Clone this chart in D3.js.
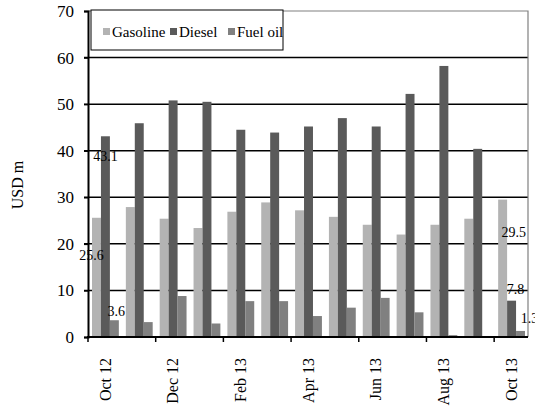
<!DOCTYPE html>
<html>
<head>
<meta charset="utf-8">
<script src="https://cdn.jsdelivr.net/npm/d3@7"></script>
<style>
  body { margin: 0; background: #fff; }
  text { font-family: "Liberation Serif", "DejaVu Serif", serif; fill: #000; }
</style>
</head>
<body>
<svg id="chart" width="535" height="408"></svg>
<script>
// monthly values, USD m
var months = ["Oct 12", "Nov 12", "Dec 12", "Jan 13", "Feb 13", "Mar 13", "Apr 13",
              "May 13", "Jun 13", "Jul 13", "Aug 13", "Sep 13", "Oct 13"];
var seriesNames = ["Gasoline", "Diesel", "Fuel oil"];
var gasoline = [25.6, 27.9, 25.4, 23.4, 26.9, 28.9, 27.2, 25.8, 24.1, 22.0, 24.1, 25.4, 29.5];
var diesel   = [43.1, 45.9, 50.8, 50.5, 44.5, 43.9, 45.2, 47.0, 45.2, 52.2, 58.2, 40.4, 7.8];
var fuelOil  = [3.6, 3.2, 8.8, 2.9, 7.7, 7.7, 4.5, 6.3, 8.4, 5.3, 0.4, 0, 1.3];
var yTicks = [0, 10, 20, 30, 40, 50, 60, 70];
var tickLabels = ["Oct 12", "Dec 12", "Feb 13", "Apr 13", "Jun 13", "Aug 13", "Oct 13"];
// data labels shown in the chart: [series index, month index]
var dataLabels = [[1, 0], [0, 0], [2, 0], [0, 12], [1, 12], [2, 12]];

var colors = ["#b3b3b3", "#5a5a5a", "#808080"];
// label offsets (dx, dy) from bar center / bar top, same order as dataLabels
var labelOffsets = [[0, 20], [-5, 37], [2, -9], [11, 32], [4, -12], [9, -13]];

var values = [gasoline, diesel, fuelOil];

var svg = d3.select("#chart");
var plotL = 88, plotR = 528, plotT = 11, plotB = 337;

var x = d3.scaleBand().domain(months).range([plotL, plotR]);
var xs = d3.scaleBand().domain(seriesNames).range([4, x.bandwidth() - 3]);
var y = d3.scaleLinear().domain([0, 70]).range([plotB, plotT]);

// gridlines
svg.append("g")
  .selectAll("line")
  .data(yTicks.filter(function(d) { return d > 0 && d < 70; }))
  .enter().append("line")
  .attr("x1", plotL - 4).attr("x2", plotR)
  .attr("y1", function(d) { return y(d); })
  .attr("y2", function(d) { return y(d); })
  .attr("stroke", "#000").attr("stroke-width", 1.5);

// plot border (top/right)
svg.append("path")
  .attr("d", "M" + plotL + "," + y(70) + "H" + plotR + "V" + plotB)
  .attr("fill", "none").attr("stroke", "#808080").attr("stroke-width", 1.2);

// bars
var groups = svg.append("g")
  .selectAll("g")
  .data(seriesNames)
  .enter().append("g")
  .attr("fill", function(d, i) { return colors[i]; });

groups.selectAll("rect")
  .data(function(d, i) { return values[i].map(function(v, j) { return { s: d, m: months[j], v: v }; }); })
  .enter().append("rect")
  .attr("x", function(d) { return x(d.m) + xs(d.s); })
  .attr("width", xs.bandwidth())
  .attr("y", function(d) { return y(d.v); })
  .attr("height", function(d) { return y(0) - y(d.v); });

// y axis
var yAxis = svg.append("g")
  .attr("transform", "translate(" + plotL + ",0)")
  .call(d3.axisLeft(y).tickValues(yTicks).tickSize(4).tickPadding(10).tickFormat(d3.format("d")));
yAxis.select(".domain").attr("stroke", "#000").attr("stroke-width", 2);
yAxis.selectAll(".tick line").attr("stroke", "#000").attr("stroke-width", 1.5);
yAxis.selectAll("text").attr("font-size", 17).attr("font-family", "Liberation Serif");

// x axis: tick marks every two months, labels on month centres
var xAxis = svg.append("g").attr("transform", "translate(0," + plotB + ")");
xAxis.append("line")
  .attr("x1", plotL - 1).attr("x2", plotR)
  .attr("stroke", "#000").attr("stroke-width", 2);
xAxis.selectAll("line.tk")
  .data(months.filter(function(d, i) { return i % 2 === 0; }))
  .enter().append("line")
  .attr("class", "tk")
  .attr("x1", function(d) { return x(d); })
  .attr("x2", function(d) { return x(d); })
  .attr("y1", 0).attr("y2", 5)
  .attr("stroke", "#000").attr("stroke-width", 1.5);
xAxis.selectAll("text")
  .data(tickLabels)
  .enter().append("text")
  .attr("transform", function(d) { return "translate(" + (x(d) + x.bandwidth() / 2) + ",21) rotate(-90)"; })
  .attr("text-anchor", "end")
  .attr("dy", "0.35em")
  .attr("font-size", 16)
  .text(function(d) { return d; });

// y label
svg.append("text")
  .attr("transform", "translate(17,185) rotate(-90)")
  .attr("text-anchor", "middle")
  .attr("dy", "0.35em")
  .attr("font-size", 16)
  .text("USD m");

// data labels
svg.append("g")
  .selectAll("text")
  .data(dataLabels)
  .enter().append("text")
  .attr("x", function(d, i) { return x(months[d[1]]) + xs(seriesNames[d[0]]) + xs.bandwidth() / 2 + labelOffsets[i][0]; })
  .attr("y", function(d, i) { return y(values[d[0]][d[1]]) + labelOffsets[i][1]; })
  .attr("text-anchor", "middle")
  .attr("dy", "0.35em")
  .attr("font-size", 14)
  .text(function(d) { return values[d[0]][d[1]].toFixed(1); });

// legend
var legend = svg.append("g");
legend.append("rect")
  .attr("x", 91).attr("y", y(70) - 1).attr("width", 192).attr("height", 40)
  .attr("fill", "#fff").attr("stroke", "#000").attr("stroke-width", 1);
var legendX = [103, 170, 228];
var item = legend.selectAll("g")
  .data(seriesNames)
  .enter().append("g")
  .attr("transform", function(d, i) { return "translate(" + legendX[i] + ",32)"; });
item.append("rect")
  .attr("x", 0).attr("y", -4).attr("width", 7).attr("height", 7)
  .attr("fill", function(d, i) { return colors[i]; });
item.append("text")
  .attr("x", 9).attr("dy", "0.35em")
  .attr("font-size", 15)
  .text(function(d) { return d; });
</script>
</body>
</html>
